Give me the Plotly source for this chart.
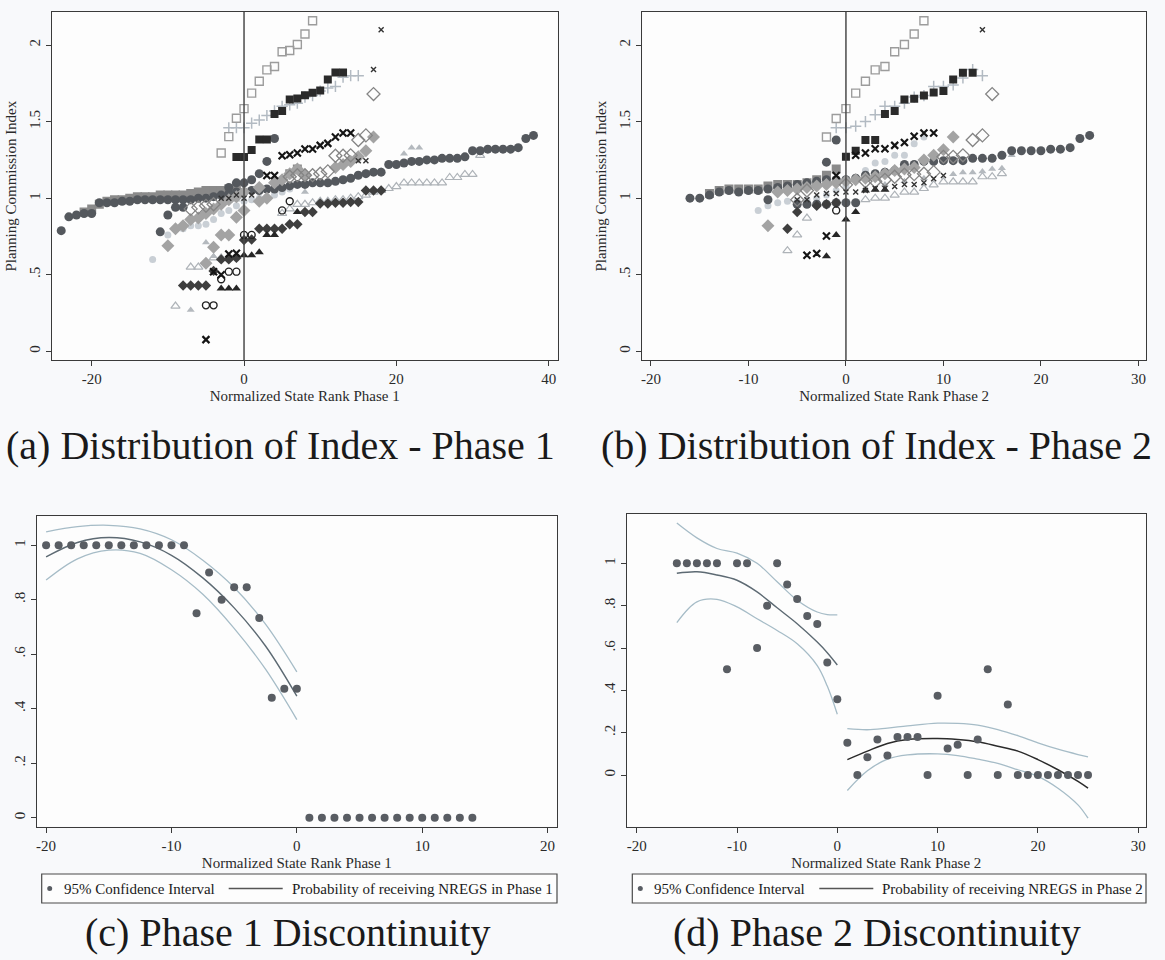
import plotly.graph_objects as go

# ---------------- Panel (a): Distribution of Index - Phase 1 ----------------
A_SQ_OPEN_X = [-3, -2, -1, 0, 1, 2, 3, 4, 5, 6, 7, 8, 9]
A_SQ_OPEN_Y = [1.295, 1.402, 1.522, 1.585, 1.686, 1.764, 1.838, 1.860, 1.956, 1.965, 2.004, 2.072, 2.159]

A_SQ_DARK_X = [-1, 0, 1, 2, 3, 4, 5, 6, 7, 8, 9, 10, 11, 12, 13]
A_SQ_DARK_Y = [1.269, 1.269, 1.314, 1.384, 1.384, 1.55, 1.57, 1.644, 1.651, 1.672, 1.688, 1.703, 1.775, 1.821, 1.821]

A_PLUS_X = [-2, -1, 0, 1, 2, 3, 4, 5, 6, 7, 8, 9, 10, 11, 12, 13, 14, 15]
A_PLUS_Y = [1.46, 1.46, 1.46, 1.49, 1.51, 1.54, 1.57, 1.60, 1.61, 1.62, 1.66, 1.67, 1.70, 1.72, 1.73, 1.79, 1.80, 1.80]

A_XBIG_X = [-5, -4, -3, -2, -1, 3, 4, 5, 6, 7, 8, 9, 10, 11, 12, 13, 14]
A_XBIG_Y = [0.076, 0.52, 0.50, 0.635, 0.64, 1.148, 1.148, 1.277, 1.284, 1.295, 1.321, 1.321, 1.345, 1.358, 1.40, 1.426, 1.426]

A_XSMALL_X = [-3, -2, -1, 0, 1, 15, 16, 17, 18]
A_XSMALL_Y = [1.0, 1.0, 1.02, 1.0, 1.02, 1.245, 1.245, 1.84, 2.10]

A_DIA_OPEN_X = [-7, -6, -5, -4, 6, 7, 8, 9, 10, 11, 12, 13, 14, 15, 16, 17]
A_DIA_OPEN_Y = [0.93, 0.94, 0.95, 0.96, 1.14, 1.15, 1.15, 1.15, 1.16, 1.175, 1.277, 1.277, 1.28, 1.38, 1.41, 1.68]

A_DIA_LIGHT_X = [-10, -9, -8, -7, -6, -5, -4, -3, -2, -1, 0, 2, 4, 5, 6, 7, 8, 12, 13, 14, 15, 16, 17]
A_DIA_LIGHT_Y = [0.69, 0.80, 0.82, 0.86, 0.87, 0.90, 0.93, 0.96, 0.99, 1.01, 1.04, 1.07, 1.10, 1.12, 1.16, 1.19, 1.15, 1.20, 1.22, 1.24, 1.27, 1.31, 1.40]

A_DIA_LIGHT2_X = [-5, -4, -3, -2, -1, 0, 2, 3]
A_DIA_LIGHT2_Y = [0.575, 0.68, 0.76, 0.76, 0.875, 0.92, 0.98, 1.0]

A_SQ_MID_X = [-21, -20, -19, -18, -17, -16, -15, -14, -13, -12, -11, -10, -9, -8, -7, -6, -5, -4, -3, -2, -1, 6, 7]
A_SQ_MID_Y = [0.91, 0.93, 0.96, 0.98, 0.99, 0.99, 1.0, 1.01, 1.01, 1.01, 1.02, 1.02, 1.02, 1.02, 1.03, 1.04, 1.05, 1.05, 1.05, 1.06, 1.07, 1.16, 1.19]

A_CIRC_X = [-24, -23, -22, -21, -20, -19, -18, -17, -16, -15, -14, -13, -12, -11, -10, -9, -8, -7, -6, -5, -4, -3, -2, -1,
            0, 1, 2, 3, 4, 5, 6, 7, 8, 9, 10, 11, 12, 13, 14, 15, 16, 17, 18, 19, 20, 21, 22, 23, 24, 25, 26, 27, 28, 29,
            30, 31, 32, 33, 34, 35, 36, 37, 38]
A_CIRC_Y = [0.788, 0.878, 0.89, 0.90, 0.90, 0.97, 0.97, 0.97, 0.98, 0.98, 0.99, 0.99, 0.99, 0.99, 0.99, 0.99, 0.99, 0.99, 1.0, 1.0, 1.01, 1.02, 1.03, 1.04,
            1.04, 1.05, 1.05, 1.06, 1.06, 1.07, 1.08, 1.09, 1.09, 1.10, 1.10, 1.10, 1.11, 1.12, 1.13, 1.15, 1.16, 1.17, 1.17, 1.22, 1.22, 1.23, 1.24, 1.24, 1.25, 1.25, 1.26, 1.26, 1.26, 1.27,
            1.31, 1.31, 1.32, 1.32, 1.32, 1.32, 1.33, 1.39, 1.41]

A_CIRC2_X = [-11, -10, -9, -8, -2, -1, 0, 1, 2, 3, 4]
A_CIRC2_Y = [0.78, 0.89, 0.94, 0.94, 1.07, 1.10, 1.10, 1.12, 1.16, 1.24, 1.39]

A_TRI_LIGHT_X = [-7, -5, -4, -2, -1, 8, 16, 17, 18, 21, 22, 23]
A_TRI_LIGHT_Y = [0.27, 0.71, 0.62, 0.98, 0.99, 1.04, 1.17, 1.17, 1.18, 1.29, 1.33, 1.33]

A_TRI_OPEN_X = [-9, -7, -6, -4, -3, 5, 6, 7, 8, 9, 10, 11, 12, 13, 14, 15, 16, 17, 18, 19, 20, 21, 22, 23, 24, 25, 26, 27, 28, 29, 30, 31]
A_TRI_OPEN_Y = [0.295, 0.55, 0.55, 0.61, 0.61, 0.90, 0.93, 0.96, 0.96, 0.97, 0.98, 0.98, 0.99, 0.99, 1.0, 1.01, 1.02, 1.04, 1.05, 1.063, 1.076, 1.10, 1.10, 1.10, 1.10, 1.10, 1.10, 1.135, 1.135, 1.155, 1.155, 1.28]

A_DIA_DARK_X = [-8, -7, -6, -5, -4, -3, -2, -1, 0, 1, 2, 3, 4, 5, 6, 7, 8, 9, 10, 11, 12, 13, 14, 15, 16, 17, 18]
A_DIA_DARK_Y = [0.43, 0.43, 0.43, 0.43, 0.525, 0.60, 0.60, 0.61, 0.727, 0.73, 0.80, 0.80, 0.80, 0.80, 0.83, 0.83, 0.91, 0.91, 0.965, 0.965, 0.97, 0.97, 0.975, 0.975, 1.05, 1.05, 1.05]

A_TRI_DARK_X = [-3, -2, -1, 0, 1, 2, 3, 4, 7]
A_TRI_DARK_Y = [0.41, 0.41, 0.41, 0.627, 0.627, 0.646, 0.76, 0.76, 0.91]

A_CIRC_OPEN_X = [-5, -4, -3, -2, -1, 0, 1, 5, 6]
A_CIRC_OPEN_Y = [0.30, 0.30, 0.47, 0.52, 0.52, 0.76, 0.76, 0.92, 0.98]

A_CIRC_LIGHT_X = [-12, -10, -9, -8, -7, -6, -5, -4, -3, -2, -1, 0, 1, 2, 3, 4, 5, 6]
A_CIRC_LIGHT_Y = [0.60, 0.76, 0.80, 0.80, 0.82, 0.82, 0.83, 0.86, 0.90, 0.92, 0.95, 0.98, 0.99, 1.0, 1.0, 1.02, 1.04, 1.06]

# ---------------- Panel (b): Distribution of Index - Phase 2 ----------------
B_SQ_OPEN_X = [-2, -1, 0, 1, 2, 3, 4, 5, 6, 7, 8]
B_SQ_OPEN_Y = [1.40, 1.52, 1.585, 1.686, 1.764, 1.838, 1.86, 1.956, 2.004, 2.072, 2.159]

B_SQ_DARK_X = [0, 1, 2, 3, 4, 5, 6, 7, 8, 9, 10, 11, 12, 13]
B_SQ_DARK_Y = [1.27, 1.31, 1.38, 1.38, 1.55, 1.57, 1.644, 1.65, 1.67, 1.69, 1.70, 1.775, 1.82, 1.82]

B_PLUS_X = [-1, 0, 1, 2, 3, 4, 5, 6, 7, 8, 9, 10, 11, 12, 13, 14]
B_PLUS_Y = [1.46, 1.46, 1.47, 1.50, 1.545, 1.60, 1.60, 1.62, 1.66, 1.67, 1.73, 1.73, 1.74, 1.785, 1.84, 1.80]

B_XBIG_X = [-4, -3, -2, -1, 1, 2, 3, 4, 5, 6, 7, 8, 9]
B_XBIG_Y = [0.627, 0.638, 0.753, 1.148, 1.28, 1.295, 1.323, 1.323, 1.345, 1.364, 1.404, 1.426, 1.426]

B_XSMALL_X = [-5, -4, -3, -2, -1, 0, 1, 2, 3, 4, 5, 6, 7, 8, 9, 10, 14]
B_XSMALL_Y = [0.99, 0.99, 1.02, 1.03, 1.03, 1.04, 1.04, 1.05, 1.063, 1.063, 1.076, 1.09, 1.09, 1.10, 1.127, 1.148, 2.10]

B_DIA_OPEN_X = [-5, -4, 0, 2, 3, 4, 5, 6, 7, 8, 9, 10, 11, 12, 13, 14, 15]
B_DIA_OPEN_Y = [0.99, 1.05, 1.087, 1.11, 1.11, 1.12, 1.14, 1.153, 1.157, 1.16, 1.17, 1.27, 1.27, 1.28, 1.38, 1.41, 1.68]

B_DIA_LIGHT_X = [-8, -7, -6, -5, -4, -3, -2, -1, 0, 1, 2, 3, 4, 5, 6, 7, 8, 9, 10, 11]
B_DIA_LIGHT_Y = [0.82, 1.04, 1.05, 1.06, 1.07, 1.08, 1.09, 1.10, 1.11, 1.12, 1.13, 1.14, 1.16, 1.18, 1.19, 1.20, 1.25, 1.28, 1.317, 1.40]

B_SQ_MID_X = [-14, -13, -12, -11, -10, -9, -8, -7, -6, -5, -4, -3, -2, -1]
B_SQ_MID_Y = [1.03, 1.05, 1.06, 1.06, 1.06, 1.06, 1.08, 1.09, 1.09, 1.09, 1.10, 1.12, 1.15, 1.19]

B_CIRC_X = [-16, -15, -14, -13, -12, -11, -10, -9, -8, -7, -6, -5, -4, -3, -2, -1, 0, 1, 2, 3, 4, 5, 6, 7, 8, 9,
            10, 11, 12, 13, 14, 15, 16, 17, 18, 19, 20, 21, 22, 23, 24, 25]
B_CIRC_Y = [1.0, 1.0, 1.02, 1.04, 1.05, 1.04, 1.05, 1.05, 1.06, 1.07, 1.08, 1.09, 1.10, 1.11, 1.12, 1.12, 1.12, 1.13, 1.15, 1.16, 1.17, 1.18, 1.22, 1.22, 1.24, 1.24,
            1.245, 1.245, 1.245, 1.26, 1.26, 1.26, 1.28, 1.31, 1.31, 1.31, 1.31, 1.32, 1.32, 1.33, 1.39, 1.41]

B_CIRC2_X = [-8, -5, -4, -3, -2, -1, 0, 1, -2, -1]
B_CIRC2_Y = [0.99, 0.96, 0.96, 0.96, 0.96, 0.97, 0.97, 0.97, 1.235, 1.38]

B_TRI_LIGHT_X = [2, 4, 6, 8, 11, 12, 13, 14, 15, 16, 17]
B_TRI_LIGHT_Y = [1.06, 1.09, 1.11, 1.13, 1.157, 1.168, 1.168, 1.175, 1.19, 1.196, 1.28]

B_TRI_OPEN_X = [-6, -5, -4, 2, 3, 4, 5, 6, 7, 8, 9, 10, 11, 12, 13, 14, 15, 16]
B_TRI_OPEN_Y = [0.657, 0.76, 0.87, 0.99, 1.0, 1.0, 1.02, 1.04, 1.04, 1.063, 1.087, 1.107, 1.107, 1.107, 1.107, 1.14, 1.14, 1.16]

B_DIA_DARK_X = [-6, -5, -3, -2, -1]
B_DIA_DARK_Y = [0.80, 0.91, 0.95, 0.96, 0.97]

B_TRI_DARK_X = [-2, -1, 0, 1, 2, 3, 4]
B_TRI_DARK_Y = [0.62, 0.76, 0.86, 0.91, 1.05, 1.055, 1.055]

B_CIRC_OPEN_X = [-1]
B_CIRC_OPEN_Y = [0.92]

B_CIRC_LIGHT_X = [-9, -8, -7, -6, -5, -4, -3, -2, -1, 0, 1, 2, 3, 4, 5, 6, 7, 8]
B_CIRC_LIGHT_Y = [0.92, 0.95, 0.97, 0.98, 0.98, 0.99, 1.0, 1.02, 1.05, 1.08, 1.12, 1.18, 1.23, 1.24, 1.28, 1.28, 1.356, 1.40]

# ---------------- Panel (c): Phase 1 Discontinuity ----------------
C_X = list(range(-20, 15))
C_Y = [1, 1, 1, 1, 1, 1, 1, 1, 1, 1, 1, 1, 0.75, 0.90, 0.80, 0.846, 0.846, 0.733, 0.44, 0.473, 0.473,
       0, 0, 0, 0, 0, 0, 0, 0, 0, 0, 0, 0, 0, 0]
C_FIT_X = [-20, -17.5, -15, -12.5, -10, -7.5, -5, -2.5, 0]
C_FIT_Y = [0.957, 1.01, 1.028, 1.012, 0.963, 0.88, 0.77, 0.63, 0.446]
C_UP_Y = [1.049, 1.068, 1.073, 1.06, 1.02, 0.945, 0.845, 0.71, 0.535]
C_LO_Y = [0.872, 0.95, 0.982, 0.97, 0.91, 0.82, 0.695, 0.545, 0.36]

# ---------------- Panel (d): Phase 2 Discontinuity ----------------
D_X = list(range(-16, 26))
D_Y = [1, 1, 1, 1, 1, 0.5, 1, 1, 0.6, 0.8, 1, 0.9, 0.832, 0.751, 0.713, 0.532, 0.358,
       0.152, 0, 0.084, 0.168, 0.092, 0.18, 0.18, 0.18, 0, 0.374, 0.125, 0.143, 0, 0.168, 0.5, 0, 0.333,
       0, 0, 0, 0, 0, 0, 0, 0]
D_FITL_X = [-16, -14, -12, -10, -8, -6, -4, -2, -1, 0]
D_FITL_Y = [0.953, 0.96, 0.945, 0.92, 0.865, 0.79, 0.715, 0.628, 0.578, 0.52]
D_UPL_Y = [1.19, 1.12, 1.07, 1.048, 1.0, 0.913, 0.826, 0.77, 0.758, 0.757]
D_LOL_Y = [0.72, 0.818, 0.83, 0.794, 0.738, 0.683, 0.62, 0.517, 0.42, 0.287]
D_FITR_X = [1, 3, 5, 7, 10, 12, 14, 16, 18, 20, 22, 24, 25]
D_FITR_Y = [0.073, 0.113, 0.149, 0.168, 0.173, 0.168, 0.157, 0.136, 0.113, 0.073, 0.025, -0.03, -0.062]
D_UPR_Y = [0.219, 0.214, 0.222, 0.232, 0.245, 0.244, 0.236, 0.215, 0.186, 0.152, 0.122, 0.097, 0.086]
D_LOR_Y = [-0.073, 0.02, 0.075, 0.095, 0.10, 0.092, 0.075, 0.055, 0.025, -0.006, -0.062, -0.141, -0.204]

# ---------------- Text ----------------
Y_TITLE_AB = "Planning Commission Index"
X_TITLES = ["Normalized State Rank Phase 1", "Normalized State Rank Phase 2",
            "Normalized State Rank Phase 1", "Normalized State Rank Phase 2"]
CAPTIONS = ["(a) Distribution of Index - Phase 1", "(b) Distribution of Index - Phase 2",
            "(c) Phase 1 Discontinuity", "(d) Phase 2 Discontinuity"]
LEG_DOT = "95% Confidence Interval"
LEG_LINE = ["Probability of receiving NREGS in Phase 1", "Probability of receiving NREGS in Phase 2"]

W, H = 1165, 960
SERIF = "Liberation Serif, Times New Roman, serif"
AX = "#3a3a3a"

fig = go.Figure()


def px_x(p):
    return p / W


def px_y(p):
    return 1 - p / H


def add_pts(x, y, xa, ya, symbol, color, size, lw=0):
    fig.add_trace(go.Scatter(
        x=x, y=y, xaxis=xa, yaxis=ya, mode="markers", showlegend=False, hoverinfo="skip",
        marker=dict(symbol=symbol, color=color, size=size, line=dict(width=lw, color=color))))


def add_line(x, y, xa, ya, color, width):
    fig.add_trace(go.Scatter(
        x=x, y=y, xaxis=xa, yaxis=ya, mode="lines", showlegend=False, hoverinfo="skip",
        line=dict(color=color, width=width, shape="spline", smoothing=1.0)))


# panel (a) and (b) markers
for pre, xa, ya in (("A", "x", "y"), ("B", "x2", "y2")):
    g = globals()
    add_pts(g[pre + "_CIRC_LIGHT_X"], g[pre + "_CIRC_LIGHT_Y"], xa, ya, "circle", "#c9cfd5", 7)
    add_pts(g[pre + "_TRI_OPEN_X"], g[pre + "_TRI_OPEN_Y"], xa, ya, "triangle-up-open", "#aeb3b8", 8, 1.2)
    add_pts(g[pre + "_TRI_LIGHT_X"], g[pre + "_TRI_LIGHT_Y"], xa, ya, "triangle-up", "#b4b9be", 7)
    add_pts(g[pre + "_SQ_MID_X"], g[pre + "_SQ_MID_Y"], xa, ya, "square", "#8a8a8a", 9)
    add_pts(g[pre + "_CIRC_X"], g[pre + "_CIRC_Y"], xa, ya, "circle", "#54585d", 9)
    if pre == "A":
        add_pts(A_DIA_LIGHT2_X, A_DIA_LIGHT2_Y, xa, ya, "diamond", "#a3a3a3", 10)
    add_pts(g[pre + "_DIA_LIGHT_X"], g[pre + "_DIA_LIGHT_Y"], xa, ya, "diamond", "#a3a3a3", 10)
    add_pts(g[pre + "_CIRC2_X"], g[pre + "_CIRC2_Y"], xa, ya, "circle", "#54585d", 9)
    add_pts(g[pre + "_DIA_OPEN_X"], g[pre + "_DIA_OPEN_Y"], xa, ya, "diamond-open", "#858585", 10, 1.3)
    add_pts(g[pre + "_DIA_DARK_X"], g[pre + "_DIA_DARK_Y"], xa, ya, "diamond", "#3e3e3e", 8)
    add_pts(g[pre + "_TRI_DARK_X"], g[pre + "_TRI_DARK_Y"], xa, ya, "triangle-up", "#262626", 8)
    add_pts(g[pre + "_CIRC_OPEN_X"], g[pre + "_CIRC_OPEN_Y"], xa, ya, "circle-open", "#222222", 7, 1.4)
    add_pts(g[pre + "_PLUS_X"], g[pre + "_PLUS_Y"], xa, ya, "cross-thin-open", "#b2bac2", 8, 1.5)
    add_pts(g[pre + "_SQ_OPEN_X"], g[pre + "_SQ_OPEN_Y"], xa, ya, "square-open", "#9c9c9c", 8, 1.4)
    add_pts(g[pre + "_SQ_DARK_X"], g[pre + "_SQ_DARK_Y"], xa, ya, "square", "#2a2a2a", 8)
    add_pts(g[pre + "_XBIG_X"], g[pre + "_XBIG_Y"], xa, ya, "x-thin-open", "#151515", 7, 2.2)
    add_pts(g[pre + "_XSMALL_X"], g[pre + "_XSMALL_Y"], xa, ya, "x-thin-open", "#333333", 5, 1.4)

# panel (c)
CI_COL = "#a6bcc7"
FIT_COL = "#5d6a73"
DOT_COL = "#595d63"
add_line(C_FIT_X, C_UP_Y, "x3", "y3", CI_COL, 1.3)
add_line(C_FIT_X, C_LO_Y, "x3", "y3", CI_COL, 1.3)
add_line(C_FIT_X, C_FIT_Y, "x3", "y3", FIT_COL, 1.4)
add_pts(C_X, C_Y, "x3", "y3", "circle", DOT_COL, 8)

# panel (d)
add_line(D_FITL_X, D_UPL_Y, "x4", "y4", CI_COL, 1.3)
add_line(D_FITL_X, D_LOL_Y, "x4", "y4", CI_COL, 1.3)
add_line(D_FITL_X, D_FITL_Y, "x4", "y4", FIT_COL, 1.4)
add_line(D_FITR_X, D_UPR_Y, "x4", "y4", CI_COL, 1.3)
add_line(D_FITR_X, D_LOR_Y, "x4", "y4", CI_COL, 1.3)
add_line(D_FITR_X, D_FITR_Y, "x4", "y4", "#2b2b2b", 1.5)
add_pts(D_X, D_Y, "x4", "y4", "circle", DOT_COL, 8)


def xax(domain, rng, tickvals, title):
    return dict(domain=domain, range=rng, tickvals=tickvals, ticktext=[str(v) for v in tickvals],
                showline=True, mirror=True, linecolor=AX, linewidth=1.3, ticks="outside", ticklen=5,
                tickwidth=1.2, tickcolor=AX, showgrid=False, zeroline=False,
                tickfont=dict(family=SERIF, size=15, color="#2a2a2a"),
                title=dict(text=title, font=dict(family=SERIF, size=15, color="#2a2a2a"), standoff=4))


def yax(domain, rng, tickvals, ticktext, title, anchor):
    d = dict(domain=domain, range=rng, tickvals=tickvals, ticktext=ticktext, anchor=anchor,
             showline=True, mirror=True, linecolor=AX, linewidth=1.3, ticks="outside", ticklen=5,
             tickwidth=1.2, tickcolor=AX, showgrid=False, zeroline=False, tickangle=-90,
             tickfont=dict(family=SERIF, size=15, color="#2a2a2a"))
    if title:
        d["title"] = dict(text=title, font=dict(family=SERIF, size=15, color="#2a2a2a"), standoff=6)
    return d


yab = [px_y(360.3), px_y(12)]
fig.update_layout(
    width=W, height=H, margin=dict(l=0, r=0, t=0, b=0),
    paper_bgcolor="#f8f9fb", plot_bgcolor="#fdfdfd",
    xaxis=dict(**xax([px_x(51.7), px_x(557.7)], [-25.25, 41.18], [-20, 0, 20, 40], X_TITLES[0]), anchor="y"),
    yaxis=yax(yab, [-0.059, 2.216], [0, 0.5, 1, 1.5, 2], ["0", ".5", "1", "1.5", "2"], Y_TITLE_AB, "x"),
    xaxis2=dict(**xax([px_x(642.3), px_x(1146)], [-20.89, 30.78], [-20, -10, 0, 10, 20, 30], X_TITLES[1]), anchor="y2"),
    yaxis2=yax(yab, [-0.059, 2.216], [0, 0.5, 1, 1.5, 2], ["0", ".5", "1", "1.5", "2"], Y_TITLE_AB, "x2"),
    xaxis3=dict(**xax([px_x(36.7), px_x(557)], [-20.75, 20.75], [-20, -10, 0, 10, 20], X_TITLES[2]), anchor="y3"),
    yaxis3=yax([px_y(826.7), px_y(516.3)], [-0.033, 1.106], [0, 0.2, 0.4, 0.6, 0.8, 1],
               ["0", ".2", ".4", ".6", ".8", "1"], None, "x3"),
    xaxis4=dict(**xax([px_x(626.7), px_x(1146)], [-21.0, 30.78], [-20, -10, 0, 10, 20, 30], X_TITLES[3]), anchor="y4"),
    yaxis4=yax([px_y(826.7), px_y(514)], [-0.244, 1.233], [0, 0.2, 0.4, 0.6, 0.8, 1],
               ["0", ".2", ".4", ".6", ".8", "1"], None, "x4"),
)

# vertical cutoff lines at 0 in (a) and (b)
for xr, yr in (("x", "y domain"), ("x2", "y2 domain")):
    fig.add_shape(type="line", xref=xr, yref=yr, x0=0, x1=0, y0=0, y1=1,
                  line=dict(color="#4a4a4a", width=1.5))

# captions
cap_pos = [(280, 445), (876, 445), (288, 932), (877, 932)]
for txt, (cx, cy) in zip(CAPTIONS, cap_pos):
    fig.add_annotation(text=txt, x=px_x(cx), y=px_y(cy), xref="paper", yref="paper",
                       xanchor="center", yanchor="middle", showarrow=False,
                       font=dict(family=SERIF, size=40, color="#1a1a1a"))

# legends for (c) and (d)
for i, (bx0, bx1) in enumerate(((41.7, 557), (632.3, 1146))):
    by0, by1 = 874, 903
    cy = (by0 + by1) / 2
    fig.add_shape(type="rect", xref="paper", yref="paper", x0=px_x(bx0), x1=px_x(bx1),
                  y0=px_y(by1), y1=px_y(by0), line=dict(color="#4a4a4a", width=1.2), fillcolor="#fdfdfd")
    fig.add_shape(type="circle", xref="paper", yref="paper", x0=px_x(bx0 + 5.5), x1=px_x(bx0 + 10.5),
                  y0=px_y(cy + 2.5), y1=px_y(cy - 2.5), line=dict(width=0), fillcolor=DOT_COL)
    fig.add_annotation(text=LEG_DOT, x=px_x(bx0 + 20), y=px_y(cy), xref="paper", yref="paper",
                       xanchor="left", yanchor="middle", showarrow=False,
                       font=dict(family=SERIF, size=15, color="#1a1a1a"))
    fig.add_shape(type="line", xref="paper", yref="paper", x0=px_x(bx0 + 187), x1=px_x(bx0 + 241),
                  y0=px_y(cy), y1=px_y(cy), line=dict(color="#555555", width=1.6))
    fig.add_annotation(text=LEG_LINE[i], x=px_x(bx0 + 248), y=px_y(cy), xref="paper", yref="paper",
                       xanchor="left", yanchor="middle", showarrow=False,
                       font=dict(family=SERIF, size=15, color="#1a1a1a"))

fig.write_html("out.html")
